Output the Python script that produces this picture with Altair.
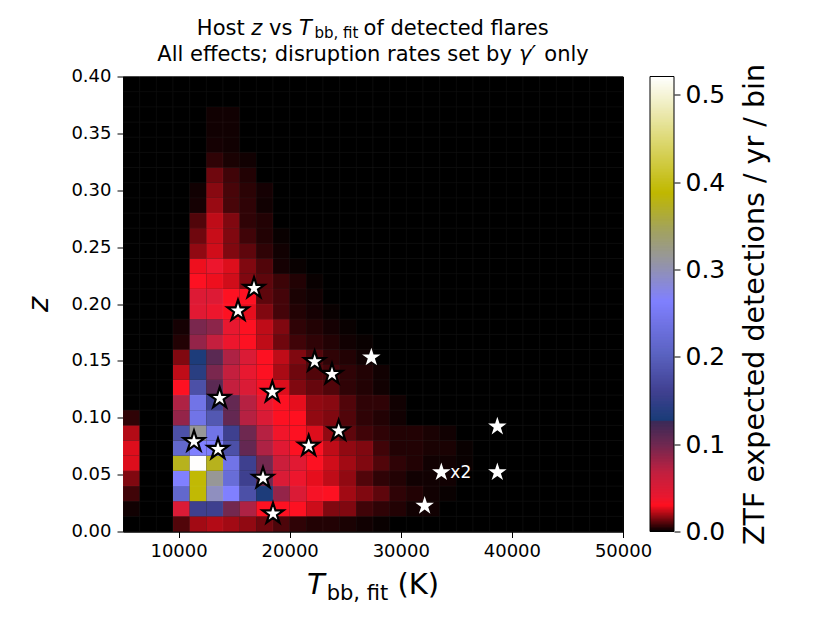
import altair as alt
import pandas as pd
import numpy as np

# ---------------- data ----------------
# 2D histogram: 30 temperature bins (1500 K wide from 5000 K) x 30 redshift bins (0.4/30 wide)
t_start, t_step, n_t = 5000, 1500, 30
z_max, n_z = 0.4, 30

# expected detections / yr / bin, one list per z-bin row (lowest z first); omitted trailing cells are 0
row_00 = [0, 0, 0, .0095, .019, .021, .019, .017, .013, .009, .0055, .004, .004, .003, .002, .001]
row_01 = [.002, 0, 0, .05, .158, .158, .098, .075, .031, .031, .031, .024, .015, .015, .0075, .0055, .004, .002, .002]
row_02 = [.0075, 0, 0, .215, .39, .295, .264, .18, .13, .085, .05, .034, .031, .019, .015, .011, .0055, .004, .002, .001]
row_03 = [.015, 0, 0, .264, .39, .315, .225, .158, .10, .05, .038, .027, .0225, .017, .0095, .0055, .004, .002, .002, .002]
row_04 = [.026, 0, 0, .375, .52, .375, .24, .158, .098, .06, .045, .031, .0245, .019, .015, .0095, .0055, .004, .002, .002, .001]
row_05 = [.026, 0, 0, .215, .264, .26, .18, .105, .075, .045, .031, .031, .0225, .017, .015, .0075, .004, .004, .003, .003, .001]
row_06 = [.021, 0, 0, .18, .315, .24, .158, .10, .072, .036, .031, .026, .017, .011, .0075, .0055, .004, .004, .003, .002]
row_07 = [.0055, 0, 0, .085, .24, .19, .105, .072, .05, .031, .03, .017, .015, .0095, .0055, .004, .002]
row_08 = [0, 0, 0, .075, .24, .158, .105, .072, .04, .031, .027, .017, .016, .0095, .0055, .0055, .002]
row_09 = [0, 0, 0, .031, .18, .11, .065, .05, .033, .026, .015, .012, .0095, .0055, .004, .002]
row_10 = [0, 0, 0, .0225, .14, .095, .065, .04, .031, .02, .013, .0095, .008, .0055, .004, .002]
row_11 = [0, 0, 0, .015, .13, .11, .075, .05, .031, .0225, .015, .0095, .0055, .004, .002]
row_12 = [0, 0, 0, .004, .085, .065, .038, .031, .0225, .013, .0075, .0055, .004, .002, .001]
row_13 = [0, 0, 0, .0025, .095, .088, .04, .031, .0225, .015, .0055, .004, .0025, .001]
row_14 = [0, 0, 0, 0, .045, .038, .031, .027, .015, .008, .004, .0025, .001]
row_15 = [0, 0, 0, 0, .048, .048, .031, .031, .011, .008, .003, .002]
row_16 = [0, 0, 0, 0, .031, .028, .0245, .015, .011, .007, .004, .001]
row_17 = [0, 0, 0, 0, .028, .038, .026, .015, .0095, .0025, .001]
row_18 = [0, 0, 0, 0, .017, .0245, .015, .011, .0055, .002]
row_19 = [0, 0, 0, 0, .013, .0235, .015, .0075, .004, .001]
row_20 = [0, 0, 0, 0, .0095, .0225, .015, .0055, .004]
row_21 = [0, 0, 0, 0, .0025, .018, .0085, .0055, .002]
row_22 = [0, 0, 0, 0, .002, .016, .0085, .005, .0025]
row_23 = [0, 0, 0, 0, 0, .013, .0075, .004]
row_24 = [0, 0, 0, 0, 0, .0055, .003, .002]
row_25 = [0, 0, 0, 0, 0, .0025, .002]
row_26 = [0, 0, 0, 0, 0, .002, .002]
row_27 = [0, 0, 0, 0, 0, .002, .002]
rows = [row_00, row_01, row_02, row_03, row_04, row_05, row_06, row_07, row_08, row_09,
        row_10, row_11, row_12, row_13, row_14, row_15, row_16, row_17, row_18, row_19,
        row_20, row_21, row_22, row_23, row_24, row_25, row_26, row_27]

# detected flares (big outlined stars and small stars)
big_t = [16790, 15350, 22250, 23810, 13700, 18440, 24410, 21710, 11390, 13550, 17600, 18500]
big_z = [0.2139, 0.1940, 0.1494, 0.1383, 0.1172, 0.1225, 0.0885, 0.0752, 0.0791, 0.0723, 0.0469, 0.0156]
small_t = [27350, 38690, 38690, 33650, 32150]
small_z = [0.1530, 0.0923, 0.0521, 0.0521, 0.0226]
note_t = [33650]
note_z = [0.0521]
note_text = ["x2"]

x_ticks = [10000, 20000, 30000, 40000, 50000]
y_ticks = [0.0, 0.05, 0.10, 0.15, 0.20, 0.25, 0.30, 0.35, 0.40]
cb_ticks = [0.0, 0.1, 0.2, 0.3, 0.4, 0.5]
cb_max = 0.521

# custom colour map (value -> colour)
cmap_vals = [0.0, 0.030, 0.040, 0.068, 0.099, 0.1275, 0.1276, 0.160, 0.202, 0.264, 0.306, 0.348, 0.388, 0.521]
cmap_cols = ["#000000", "#ff1020", "#e81830", "#c02040", "#702850", "#382a58", "#1a3c78",
             "#404090", "#5a62c0", "#8080ff", "#9494a8", "#a4a458", "#c0b800", "#ffffff"]

# ---------------- tables ----------------
z_step = z_max / n_z
recs = []
for j in range(n_z):
    row = rows[j] if j < len(rows) else []
    for i in range(n_t):
        v = row[i] if i < len(row) else 0.0
        recs.append({"t0": t_start + i * t_step, "t1": t_start + (i + 1) * t_step,
                     "z0": j * z_step, "z1": (j + 1) * z_step, "v": v})
cells = pd.DataFrame(recs)

n_cb = 300
cb_edges = np.linspace(0, cb_max, n_cb + 1)
cb_hi = np.minimum(cb_edges[1:] + cb_max / n_cb, cb_max)   # slight overlap avoids seams
cbar = pd.DataFrame({"lo": cb_edges[:-1], "hi": cb_hi,
                     "v": (cb_edges[:-1] + cb_edges[1:]) / 2})

W, H = 500, 455
FONT = "DejaVu Sans"
STAR = ("M0,-1 L0.2245,-0.309 L0.951,-0.309 L0.363,0.118 L0.588,0.809 L0,0.382 "
        "L-0.588,0.809 L-0.363,0.118 L-0.951,-0.309 L-0.2245,-0.309 Z")

color_scale = alt.Scale(domain=cmap_vals, range=cmap_cols, interpolate="rgb", clamp=True)
x_scale = alt.Scale(domain=[5000, 50000], nice=False, zero=False)
y_scale = alt.Scale(domain=[0, 0.4], nice=False, zero=False)

heat = alt.Chart(cells).mark_rect(stroke="#ffffff", strokeOpacity=0.07, strokeWidth=0.5).encode(
    x=alt.X("t0:Q", scale=x_scale, title=None,
            axis=alt.Axis(values=x_ticks, format="d", labelFontSize=18, tickSize=6,
                          labelPadding=5, tickColor="black", domainColor="black",
                          labelColor="black", grid=False, labelFlush=False)),
    x2="t1:Q",
    y=alt.Y("z0:Q", scale=y_scale, title="z",
            axis=alt.Axis(values=y_ticks, format=".2f", labelFontSize=18, tickSize=6,
                          labelPadding=6, tickColor="black", domainColor="black",
                          labelColor="black", grid=False, titleFontSize=29,
                          titleFontStyle="italic", titleFontWeight="normal",
                          titleColor="black", titlePadding=17, labelFlush=False)),
    y2="z1:Q",
    color=alt.Color("v:Q", scale=color_scale, legend=None),
)

big = alt.Chart(pd.DataFrame({"t": big_t, "z": big_z})).mark_point(
    shape=STAR, size=484, filled=True, fill="white", stroke="black", strokeWidth=2.2, opacity=1
).encode(x=alt.X("t:Q", scale=x_scale, title=None), y=alt.Y("z:Q", scale=y_scale, title="z"))

small = alt.Chart(pd.DataFrame({"t": small_t, "z": small_z})).mark_point(
    shape=STAR, size=380, filled=True, fill="white", strokeWidth=0, opacity=1
).encode(x=alt.X("t:Q", scale=x_scale, title=None), y=alt.Y("z:Q", scale=y_scale, title="z"))

note = alt.Chart(pd.DataFrame({"t": note_t, "z": note_z, "label": note_text})).mark_text(
    align="left", baseline="middle", dx=9, dy=1, fontSize=17, color="white", font=FONT
).encode(x=alt.X("t:Q", scale=x_scale, title=None), y=alt.Y("z:Q", scale=y_scale, title="z"),
         text="label:N")


def piece(text, x, y, size, style="normal", align="left"):
    return alt.Chart(pd.DataFrame({"s": [text]})).mark_text(
        align=align, baseline="alphabetic", fontSize=size, fontStyle=style,
        color="black", font=FONT
    ).encode(x=alt.value(x), y=alt.value(y), text="s:N")


SP = 0.318  # width of a space in DejaVu Sans (em)
# title line 1: "Host z vs T_bb, fit of detected flares"
f1, fs1 = 21, 15
w1 = [(2.277 + SP) * f1, (0.525 + SP) * f1, (1.113 + SP) * f1, 0.611 * f1 + 2.5,
      2.928 * fs1 + SP * f1 - 1.5, 8.839 * f1]
x1 = W / 2 - sum(w1) / 2
pos1 = [x1 + sum(w1[:k]) for k in range(6)]
yb1 = -41.5
title1 = [
    piece("Host", pos1[0], yb1, f1),
    piece("z", pos1[1], yb1, f1, "italic"),
    piece("vs", pos1[2], yb1, f1),
    piece("T", pos1[3], yb1, f1, "italic"),
    piece("bb, fit", pos1[4], yb1 + 2.5, fs1),
    piece("of detected flares", pos1[5], yb1, f1),
]
# title line 2: "All effects; disruption rates set by γ′ only"
w2 = [(16.901 + SP) * f1, (0.892 + SP) * f1, 2.116 * f1]
x2 = W / 2 - sum(w2) / 2
yb2 = -16
title2 = [
    piece("All effects; disruption rates set by", x2, yb2, f1),
    piece("γ′", x2 + w2[0], yb2, f1, "italic"),
    piece("only", x2 + w2[0] + w2[1], yb2, f1),
]
# x axis title: "T_bb, fit (K)"
fx, fsx = 29, 21
wx = [0.611 * fx + 2, 2.928 * fsx + SP * fx, 1.436 * fx]
xx = W / 2 - sum(wx) / 2
ybx = 517
xtitle = [
    piece("T", xx, ybx, fx, "italic"),
    piece("bb, fit", xx + wx[0], ybx + 6, fsx),
    piece("(K)", xx + wx[0] + wx[1], ybx, fx),
]

main = alt.layer(heat, big, small, note, *title1, *title2, *xtitle)

CB_X0, CB_X1 = 527, 551
cb_rects = alt.Chart(cbar).mark_rect(strokeWidth=0).encode(
    x=alt.value(CB_X0), x2=alt.value(CB_X1),
    y=alt.Y("lo:Q", scale=alt.Scale(domain=[0, cb_max], nice=False, zero=False),
            axis=alt.Axis(orient="right", offset=CB_X1 - W, values=cb_ticks, format=".1f",
                          labelFontSize=25, tickSize=6, labelPadding=5, domain=False,
                          tickColor="black", labelColor="black", grid=False,
                          title="ZTF expected detections / yr / bin", titleAngle=270,
                          titleBaseline="top", titleFontSize=28.5, titleFontWeight="normal",
                          titleColor="black", titlePadding=16, labelFlush=False)),
    y2="hi:Q",
    color=alt.Color("v:Q", scale=color_scale, legend=None),
)
cb_frame = alt.Chart(pd.DataFrame({"s": [0]})).mark_rect(
    filled=False, stroke="black", strokeWidth=1
).encode(x=alt.value(CB_X0), x2=alt.value(CB_X1), y=alt.value(0), y2=alt.value(H))

chart = alt.layer(main, cb_rects, cb_frame).resolve_scale(y="independent").properties(
    width=W, height=H, background="white",
    padding={"left": 16, "top": 9.5, "right": 5, "bottom": 5}
).configure(font=FONT).configure_view(stroke="black", strokeWidth=1, fill="black")

chart.save("out.html", embed_options={"renderer": "svg", "actions": False})
